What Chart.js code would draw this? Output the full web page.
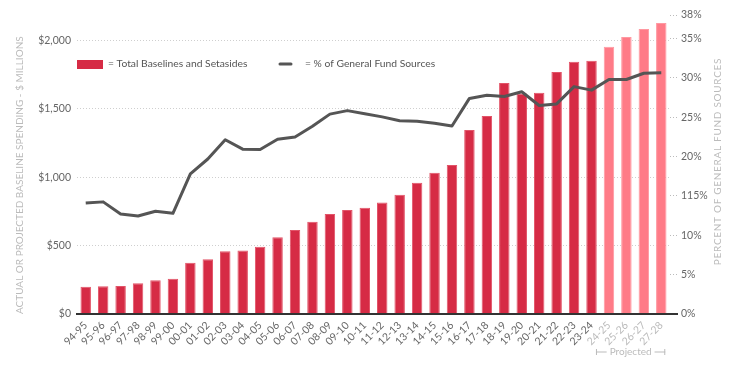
<!DOCTYPE html>
<html><head><meta charset="utf-8">
<script src="https://cdn.jsdelivr.net/npm/chart.js@4.4.0/dist/chart.umd.min.js"></script>
<style>html,body{margin:0;padding:0;background:#fff;} #wrap{width:738px;height:367px;position:relative;}</style>
</head><body><div id="wrap"><canvas id="c" width="738" height="367"></canvas></div>
<script>
const categories = ['94-95','95-96','96-97','97-98','98-99','99-00','00-01','01-02','02-03','03-04','04-05','05-06','06-07','07-08','08-09','09-10','10-11','11-12','12-13','13-14','14-15','15-16','16-17','17-18','18-19','19-20','20-21','21-22','22-23','23-24','24-25','25-26','26-27','27-28'];
const baselineSpending = [200,202,205,224,246,258,375,400,458,465,492,561,614,674,732,760,777,816,871,960,1033,1090,1345,1447,1688,1612,1618,1769,1845,1852,1954,2025,2083,2127];
const generalFundPct = [14.1,14.25,12.7,12.45,13.05,12.8,17.8,19.7,22.15,20.95,20.9,22.2,22.5,23.85,25.4,25.85,25.45,25.05,24.55,24.5,24.25,23.9,27.4,27.8,27.65,28.25,26.5,26.7,28.9,28.45,29.8,29.8,30.6,30.65];
const firstProjected = '24-25';
const leftTicks = [0,500,1000,1500,2000];
const leftTickLabels = ['$0','$500','$1,000','$1,500','$2,000'];
const rightTicks = [0,5,10,15,20,25,30,35,38];
const rightTickLabels = ['0%','5%','10%','115%','20%','25%','30%','35%','38%'];
const leftTitle = 'ACTUAL OR PROJECTED BASELINE SPENDING - $ MILLIONS';
const rightTitle = 'PERCENT OF GENERAL FUND SOURCES';
const barLabel = '= Total Baselines and Setasides';
const lineLabel = '= % of General Fund Sources';
const projectedLabel = 'Projected';

const projIdx = categories.indexOf(firstProjected);
const RED = '#D62B45', PINK = '#FF7B87', LINE = '#555555';
const FONT = 'Lato';

const decor = {
  id: 'decor',
  afterDatasetsDraw(chart) {
    const {ctx, chartArea: a} = chart;
    ctx.save();
    ctx.strokeStyle = '#333'; ctx.lineWidth = 2;
    ctx.beginPath(); ctx.moveTo(a.left - 1, a.bottom); ctx.lineTo(a.right + 8, a.bottom); ctx.stroke();
    ctx.restore();
  },
  afterDraw(chart) {
    const {ctx, chartArea: a, scales: {x}} = chart;
    ctx.save();
    // legend
    const ly = a.top + 49;
    ctx.fillStyle = RED;
    ctx.fillRect(a.left, ly - 4, 26, 9);
    ctx.font = '10.3px ' + FONT; ctx.fillStyle = '#555'; ctx.textBaseline = 'middle'; ctx.textAlign = 'left';
    ctx.fillText(barLabel, a.left + 31, ly);
    ctx.strokeStyle = LINE; ctx.lineWidth = 3; ctx.lineCap = 'round';
    ctx.beginPath(); ctx.moveTo(a.left + 203, ly); ctx.lineTo(a.left + 214, ly); ctx.stroke();
    ctx.fillText(lineLabel, a.left + 228, ly);
    // axis titles
    ctx.fillStyle = '#bbb'; ctx.font = '10px ' + FONT;
    ctx.letterSpacing = '0px';
    ctx.save(); ctx.translate(20, a.bottom); ctx.rotate(-Math.PI / 2);
    ctx.textAlign = 'left'; ctx.fillText(leftTitle, 0, 0); ctx.restore();
    ctx.letterSpacing = '0.7px';
    ctx.save(); ctx.translate(718, (a.top + a.bottom) / 2 - 3); ctx.rotate(-Math.PI / 2);
    ctx.textAlign = 'center'; ctx.fillText(rightTitle, 0, 0); ctx.restore();
    ctx.letterSpacing = '0px';
    // projected bracket
    const x0 = x.getPixelForValue(projIdx) - 13;
    const x1 = x.getPixelForValue(categories.length - 1) + 4;
    const py = 352, mid = (x0 + x1) / 2;
    ctx.font = '10px ' + FONT; ctx.textAlign = 'center'; ctx.fillStyle = '#bbb';
    ctx.fillText(projectedLabel, mid, py);
    const tw = ctx.measureText(projectedLabel).width / 2 + 3;
    ctx.strokeStyle = '#bbb'; ctx.lineWidth = 1; ctx.lineCap = 'butt';
    ctx.beginPath();
    ctx.moveTo(x0, py); ctx.lineTo(mid - tw, py);
    ctx.moveTo(mid + tw, py); ctx.lineTo(x1, py);
    ctx.moveTo(x0 + 0.5, py - 3); ctx.lineTo(x0 + 0.5, py + 3);
    ctx.moveTo(x1 - 0.5, py - 3); ctx.lineTo(x1 - 0.5, py + 3);
    ctx.stroke();
    ctx.restore();
  }
};

new Chart(document.getElementById('c'), {
  data: {
    labels: categories,
    datasets: [
      {
        type: 'line', label: lineLabel, data: generalFundPct, yAxisID: 'y1',
        borderColor: LINE, borderWidth: 3, pointRadius: 0, tension: 0, order: 0,
        borderJoinStyle: 'round'
      },
      {
        type: 'bar', label: barLabel, data: baselineSpending, yAxisID: 'y',
        backgroundColor: c => c.index >= projIdx ? PINK : RED,
        borderColor: c => c.index >= projIdx ? '#FF98A1' : '#E25468',
        borderWidth: 1, categoryPercentage: 1, barPercentage: 0.6, order: 1
      }
    ]
  },
  options: {
    responsive: false, animation: false, maintainAspectRatio: false,
    layout: {padding: {top: 15, left: 0, right: 0, bottom: 0}},
    plugins: {legend: {display: false}, tooltip: {enabled: false}},
    scales: {
      x: {
        offset: true,
        grid: {display: false, drawTicks: false},
        border: {display: false},
        ticks: {
          autoSkip: false, maxRotation: 45, minRotation: 45, padding: 5,
          font: {family: FONT, size: 10.5},
          color: c => c.index >= projIdx ? '#bbb' : '#666'
        },
        afterFit: s => { s.height = 53; }
      },
      y: {
        position: 'left', min: 0, max: 2186,
        afterBuildTicks: s => { s.ticks = leftTicks.map(v => ({value: v})); },
        ticks: {
          callback: v => leftTickLabels[leftTicks.indexOf(v)],
          color: '#666', font: {family: FONT, size: 10.5}, padding: 6
        },
        grid: {color: '#cfcfcf', drawTicks: false, lineWidth: 1},
        border: {display: false, dash: [1, 2]},
        afterFit: s => { s.width = 77; }
      },
      y1: {
        position: 'right', min: 0, max: 38,
        afterBuildTicks: s => { s.ticks = rightTicks.map(v => ({value: v})); },
        ticks: {
          callback: v => rightTickLabels[rightTicks.indexOf(v)],
          color: '#666', font: {family: FONT, size: 10.5}, padding: 3
        },
        grid: {drawOnChartArea: false, drawTicks: true, tickLength: 8, tickColor: '#bbb', tickBorderDash: [1, 2]},
        border: {display: false},
        afterFit: s => { s.width = 68; }
      }
    }
  },
  plugins: [decor]
});
</script>
</body></html>
